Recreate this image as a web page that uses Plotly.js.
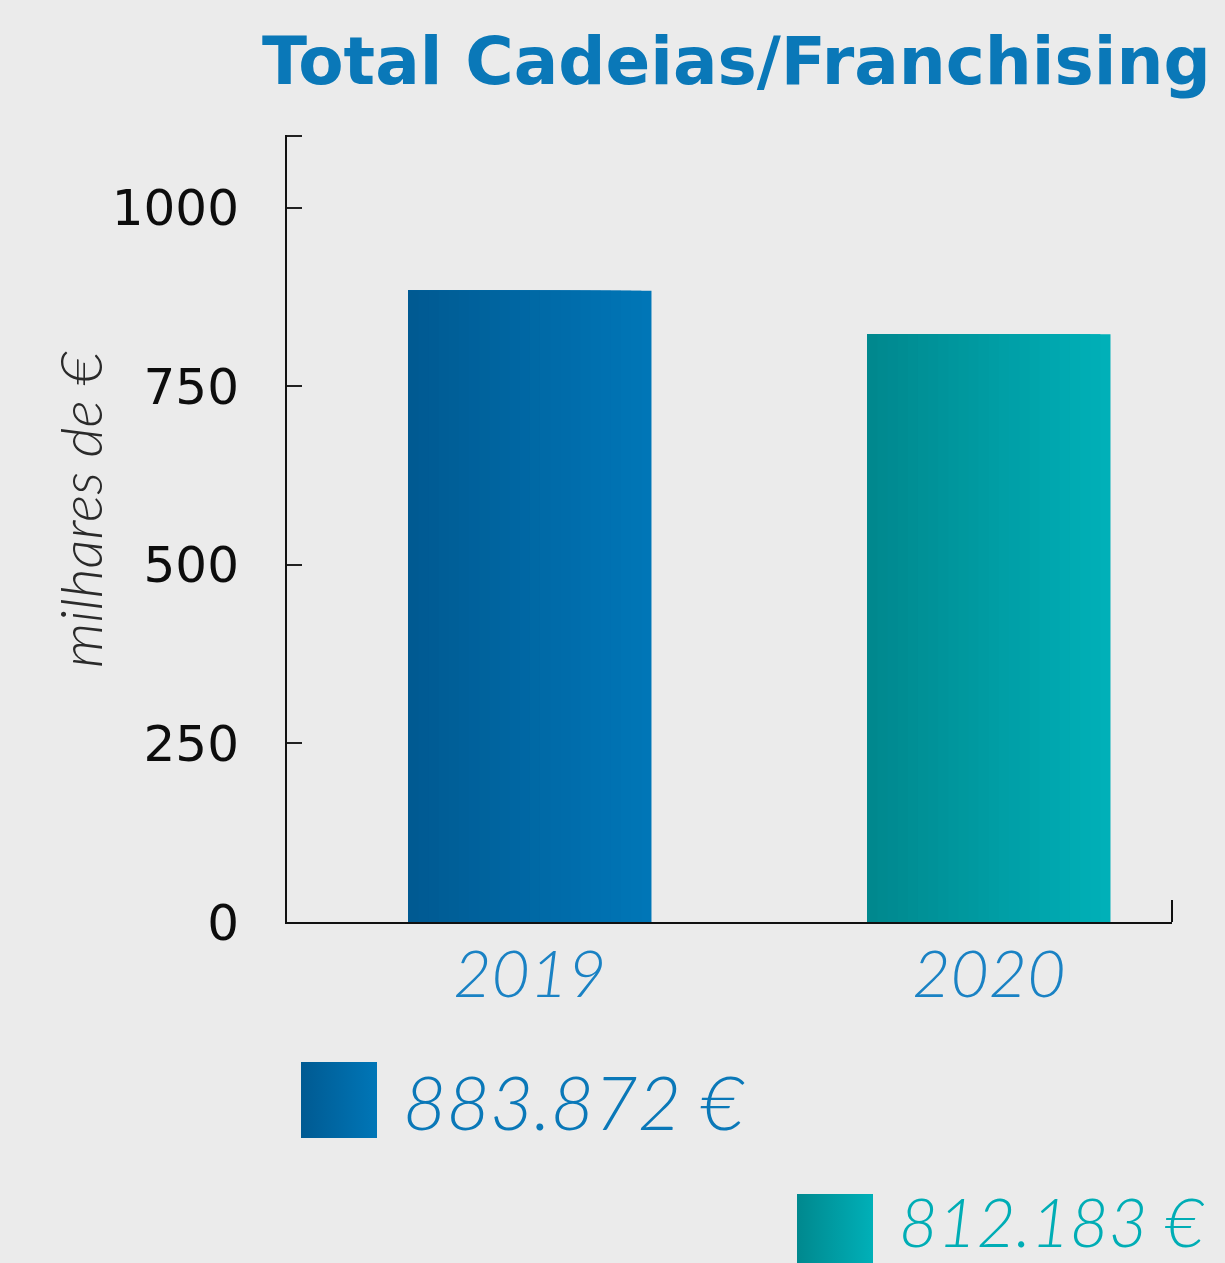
<!DOCTYPE html>
<html>
<head>
<meta charset="utf-8">
<script src="https://cdn.plot.ly/plotly-3.0.1.min.js"></script>
<style>
html,body{margin:0;padding:0;background:#ebebeb;}
#chart{width:1225px;height:1263px;}
</style>
</head>
<body>
<div id="chart"></div>
<script>
// ---- data ----
const categories = ['2019', '2020'];
const values = [883.872, 823];
const valueLabels = ['883.872 €', '812.183 €'];
const yTickVals = [0, 250, 500, 750, 1000, 1100];
const yTickText = ['0', '250', '500', '750', '1000', ''];
const chartTitle = 'Total Cadeias/Franchising';
const yTitle = 'milhares de €';

// ---- styles ----
const darkColors = [[0, 90, 146], [0, 136, 142]];
const lightColors = [[0, 118, 183], [0, 176, 184]];
const textColors = ['#0a78b8', '#00adb5'];
const W = 0.53;
const N = 24;

function mix(a, b, t) {
  return 'rgb(' + a.map((v, i) => Math.round(v + (b[i] - v) * t)).join(',') + ')';
}

const traces = [];
for (let k = 0; k < N; k++) {
  const t = k / (N - 1);
  traces.push({
    type: 'bar',
    x: categories,
    y: values,
    width: categories.map(() => W * (1 - k / N)),
    offset: categories.map(() => -W / 2),
    marker: {
      color: categories.map((c, i) => mix(lightColors[i], darkColors[i], t)),
      line: {width: 0}
    },
    hoverinfo: 'skip',
    showlegend: false
  });
}

function gradSvg(i) {
  const a = mix(darkColors[i], darkColors[i], 0), b = mix(lightColors[i], lightColors[i], 0);
  const svg = '<svg xmlns="http://www.w3.org/2000/svg" width="100" height="100" preserveAspectRatio="none">' +
    '<defs><linearGradient id="g" x1="0" x2="1" y1="0" y2="0"><stop offset="0" stop-color="' + a + '"/>' +
    '<stop offset="1" stop-color="' + b + '"/></linearGradient></defs>' +
    '<rect width="100" height="100" fill="url(#g)"/></svg>';
  return 'data:image/svg+xml;base64,' + btoa(svg);
}

const L = 287, R = 1172, T = 135, B = 922;
const pw = R - L, ph = B - T;
const px = x => (x - L) / pw;
const py = y => (B - y) / ph;

const layout = {
  width: 1225, height: 1263,
  margin: {l: L, r: 1225 - R, t: T, b: 1263 - B, pad: 0},
  paper_bgcolor: '#ebebeb',
  plot_bgcolor: 'rgba(0,0,0,0)',
  barmode: 'overlay',
  hovermode: false,
  showlegend: false,
  xaxis: {
    type: 'category',
    range: [-0.529, 1.399],
    showline: true, linecolor: '#111', linewidth: 2,
    showgrid: false, zeroline: false,
    ticks: '',
    ticklabelstandoff: -6,
    tickfont: {family: 'Lato', size: 66, color: '#1a82c4', style: 'italic', weight: 300}
  },
  yaxis: {
    range: [0, 1102],
    showline: true, linecolor: '#111', linewidth: 2,
    showgrid: false, zeroline: false,
    ticks: 'inside', ticklen: 15, tickwidth: 2, tickcolor: '#222',
    tickvals: yTickVals, ticktext: yTickText,
    ticklabelstandoff: 36,
    tickfont: {family: 'DejaVu Sans', size: 50, color: '#0d0d0d', weight: 500}
  },
  shapes: [
    {type: 'line', xref: 'paper', yref: 'paper', x0: 1, x1: 1, y0: 0, y1: 22 / ph,
     line: {color: '#111', width: 2}}
  ],
  images: [0, 1].map(i => ({
    source: gradSvg(i), xref: 'paper', yref: 'paper',
    x: px(i === 0 ? 301 : 797), y: py(i === 0 ? 1062 : 1194),
    sizex: 76 / pw, sizey: 76 / ph, sizing: 'stretch',
    xanchor: 'left', yanchor: 'top', layer: 'above'
  })),
  annotations: [
    {text: '<b>' + chartTitle + '</b>', xref: 'paper', yref: 'paper',
     x: px(1213), y: py(61), xanchor: 'right', yanchor: 'middle', showarrow: false,
     font: {family: 'DejaVu Sans', size: 66, color: '#0a78b8'}},
    {text: yTitle, xref: 'paper', yref: 'paper', x: px(80), y: py(510),
     xanchor: 'center', yanchor: 'middle', textangle: -90, showarrow: false,
     font: {family: 'Lato', size: 58, color: '#2a2a2a', style: 'italic', weight: 300}},
    {text: valueLabels[0], xref: 'paper', yref: 'paper', x: px(401), y: py(1101),
     xanchor: 'left', yanchor: 'middle', showarrow: false,
     font: {family: 'Lato', size: 75, color: textColors[0], style: 'italic', weight: 300}},
    {text: valueLabels[1], xref: 'paper', yref: 'paper', x: px(897), y: py(1221),
     xanchor: 'left', yanchor: 'middle', showarrow: false,
     font: {family: 'Lato', size: 67, color: textColors[1], style: 'italic', weight: 300}}
  ]
};

Plotly.newPlot('chart', traces, layout, {displayModeBar: false, staticPlot: true});
</script>
</body>
</html>
